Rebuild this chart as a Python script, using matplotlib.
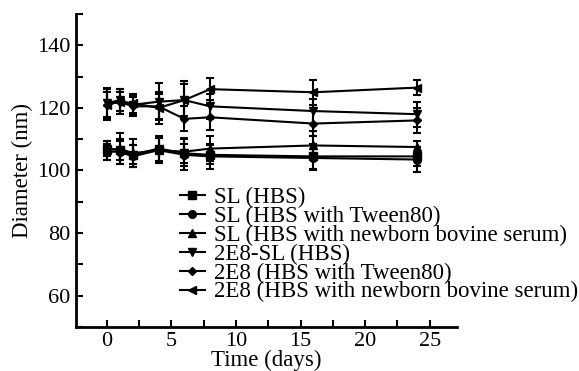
import numpy as np
import matplotlib
matplotlib.use("Agg")
import matplotlib.pyplot as plt
from matplotlib.ticker import MultipleLocator

plt.rcParams['font.family'] = ['Liberation Serif', 'DejaVu Serif']

days = [0, 1, 2, 4, 6, 8, 16, 24]

labels = ["SL (HBS)",
          "SL (HBS with Tween80)",
          "SL (HBS with newborn bovine serum)",
          "2E8-SL (HBS)",
          "2E8 (HBS with Tween80)",
          "2E8 (HBS with newborn bovine serum)"]
markers = ['s', 'o', '^', 'v', 'D', '<']

sl_hbs = [107, 106.5, 105, 107, 105.5, 105, 104.5, 104.5]
sl_hbs_err = [2.5, 3, 3, 4, 3, 3, 4, 3]
sl_tween = [106, 106, 104.5, 106.5, 105, 104.5, 104, 103.5]
sl_tween_err = [2.5, 4, 3.5, 4, 5, 4, 4, 4]
sl_serum = [106.5, 107, 105.5, 106.5, 106, 107, 108, 107.5]
sl_serum_err = [3, 5, 4.5, 4, 4.5, 4, 4.5, 2]
e8sl_hbs = [121.5, 122.5, 121, 122, 122.5, 120.5, 119, 118]
e8sl_hbs_err = [5, 3.5, 3, 6, 6, 4, 4, 4]
e8_tween = [121, 122, 120.5, 120.5, 116.5, 117, 115, 116]
e8_tween_err = [5, 4, 3, 4, 4, 4, 4, 4]
e8_serum = [121, 122, 121.5, 120, 122.5, 126, 125, 126.5]
e8_serum_err = [4, 3, 3, 5, 5, 3.5, 4, 2.5]

series = [(sl_hbs, sl_hbs_err), (sl_tween, sl_tween_err), (sl_serum, sl_serum_err),
          (e8sl_hbs, e8sl_hbs_err), (e8_tween, e8_tween_err), (e8_serum, e8_serum_err)]

fig = plt.figure(figsize=(5.79, 3.71), dpi=100)
ax = fig.add_axes([0.131, 0.119, 0.658, 0.843])

for (vals, err), m, lab in zip(series, markers, labels):
    ms = 4.5 if m == 'D' else 5.5
    ax.errorbar(days, vals, yerr=err, color='black', marker=m, markersize=ms,
                linewidth=1.5, elinewidth=1.5, capsize=3, capthick=1.5, label=lab)

ax.set_xlim(-2.4, 27.1)
ax.set_ylim(50, 150)
ax.xaxis.set_major_locator(MultipleLocator(5))
ax.xaxis.set_minor_locator(MultipleLocator(2.5))
ax.yaxis.set_minor_locator(MultipleLocator(10))
ax.set_yticks([60, 80, 100, 120, 140])

for s in ['top', 'right']:
    ax.spines[s].set_visible(False)
for s in ['left', 'bottom']:
    ax.spines[s].set_linewidth(2)
ax.tick_params(which='major', direction='in', length=5, width=1.5, labelsize=16, pad=4)
ax.tick_params(which='minor', direction='in', length=5, width=1.5)

ax.set_xlabel("Time (days)", fontsize=16.5, labelpad=-1)
ax.set_ylabel("Diameter (nm)", fontsize=16.5, labelpad=3)

handles, labs = ax.get_legend_handles_labels()
handles = [h[0] for h in handles]
ax.legend(handles, labs, loc='upper left', bbox_to_anchor=(0.273, 0.447),
          frameon=False, fontsize=16.5, labelspacing=-0.1, handlelength=1.1,
          handletextpad=0.4, borderaxespad=0, borderpad=0)

fig.savefig("out.png", dpi=100)
